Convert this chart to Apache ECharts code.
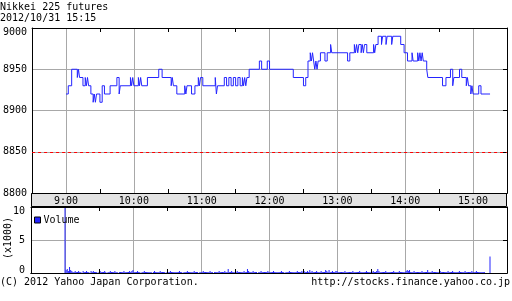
<!DOCTYPE html>
<html>
<head>
<meta charset="utf-8">
<script src="https://cdn.jsdelivr.net/npm/echarts@6/dist/echarts.min.js"></script>
<style>
html,body{margin:0;padding:0;background:#fff;}
#c{width:512px;height:301px;}
</style>
</head>
<body>
<div id="c"></div>
<script>
// ---- data (minutes after 9:00) ----
const titleText = 'Nikkei 225 futures';
const dateText = '2012/10/31 15:15';
const hourLabels = ['9:00','10:00','11:00','12:00','13:00','14:00','15:00'];
const priceTicks = [8800, 8850, 8900, 8950, 9000];
const volumeTicks = [0, 5, 10];
const prevClose = 8850;

// [minute, price] at each change of the 1-minute price (step line)
const priceSteps = [
[0,8920],[2,8930],[5,8950],[10,8940],[11,8950],[12,8940],[15,8930],[17,8940],[18,8930],[19,8940],
[20,8930],[22,8920],[24,8910],[25,8920],[26,8910],[27,8920],[30,8910],[32,8930],[34,8920],[39,8930],
[45,8940],[47,8920],[48,8930],[57,8940],[58,8930],[59,8940],[60,8930],[64,8940],[65,8930],[66,8940],
[67,8930],[72,8940],[82,8950],[85,8940],[93,8930],[94,8940],[95,8930],[98,8920],[105,8930],[106,8920],
[107,8930],[111,8920],[114,8930],[117,8940],[118,8930],[119,8940],[121,8930],[132,8940],[133,8920],[134,8930],
[140,8940],[142,8930],[144,8940],[146,8930],[148,8940],[150,8930],[152,8940],[154,8930],[156,8940],[157,8930],
[158,8940],[159,8930],[160,8940],[162,8950],[171,8960],[173,8950],[178,8960],[180,8950],[201,8940],[210,8930],
[212,8940],[214,8960],[216,8970],[217,8960],[218,8970],[219,8960],[220,8950],[221,8960],[222,8950],[223,8960],
[225,8970],[229,8960],[231,8970],[234,8980],[235,8970],[249,8960],[251,8970],[255,8980],[256,8970],[257,8980],
[258,8970],[259,8980],[261,8970],[262,8980],[263,8970],[264,8980],[266,8970],[272,8980],[273,8970],[274,8980],
[276,8990],[279,8980],[280,8990],[283,8980],[284,8990],[288,8980],[289,8990],[296,8980],[299,8970],[302,8960],
[306,8970],[307,8960],[311,8970],[312,8960],[313,8970],[314,8960],[315,8970],[316,8960],[319,8950],[320,8940],
[333,8930],[336,8940],[340,8950],[342,8930],[343,8940],[348,8950],[350,8940],[354,8930],[355,8940],[356,8930],
[358,8920],[359,8930],[360,8920],[365,8930],[367,8920],[375,8920]
];

// volume per minute (x1000), minute 0 .. 375
const volume = [
10,0.45,0.6,0.3,0.9,0.45,0.3,0.15,0.15,0.3,0.15,0.15,0.3,0.15,0.15,0,0.3,0.15,0.15,0.3,
0.15,0.15,0,0.3,0.15,0.3,0.15,0.15,0.15,0,0.15,0.3,0.15,0.15,0.15,0.3,0.15,0,0.15,0.15,
0.3,0.15,0.15,0.15,0.3,0.15,0.15,0,0.15,0.15,0.15,0.15,0.3,0.15,0.15,0.15,0.15,0.3,0.15,0.3,
0.45,0.15,0.15,0.15,0.3,0.15,0.15,0,0.15,0.15,0.3,0.15,0.15,0.15,0.15,0.15,0.15,0,0.15,0.3,
0.15,0.15,0.15,0.15,0.3,0.15,0.15,0.15,0.15,0,0.15,0.15,0.15,0.3,0.15,0.15,0.15,0.15,0.15,0.15,
0.15,0.3,0.15,0.15,0,0.15,0.15,0.15,0.3,0.15,0.15,0.15,0.15,0.15,0.3,0.15,0.15,0.15,0,0.15,
0.15,0.15,0.3,0.15,0.15,0.15,0.15,0.15,0.3,0.15,0.15,0,0.15,0.15,0.15,0.15,0.3,0.15,0.15,0.15,
0.15,0.3,0.15,0.15,0.6,0.15,0.15,0.3,0.15,0.15,0.15,0.15,0.3,0.15,0.15,0.15,0.15,0.15,0.3,0.15,
0.15,0.6,0.3,0.15,0.15,0.15,0.3,0.15,0.15,0.15,0,0.15,0.15,0.3,0.15,0.15,0.15,0.15,0.15,0.3,
0.15,0.15,0.15,0.15,0.3,0.15,0.15,0.15,0.15,0.15,0.15,0.3,0.15,0.15,0,0.15,0.15,0.15,0.3,0.15,
0.15,0.15,0.15,0.15,0.15,0.3,0.15,0.15,0.15,0.3,0.15,0.3,0.15,0.15,0.3,0.15,0.45,0.15,0.3,0.15,
0.15,0.15,0.3,0.15,0.15,0.15,0.3,0.15,0.15,0.15,0.45,0.3,0.15,0.45,0.15,0.15,0.3,0.15,0.15,0.3,
0.3,0.15,0.15,0.15,0.15,0.15,0.15,0.3,0.15,0.15,0.15,0.15,0.15,0.15,0.3,0.15,0.15,0.15,0.15,0.15,
0.3,0.15,0.15,0.15,0.15,0.15,0.3,0.15,0.15,0.15,0.15,0.15,0.3,0.15,0.15,0.3,0.6,0.3,0.15,0.15,
0.15,0.15,0.15,0.3,0.15,0.15,0.15,0.15,0.15,0.15,0.3,0.15,0.15,0.15,0.15,0.3,0.15,0.15,0.15,0.15,
0.15,0.3,0.45,0.3,0.45,0.15,0.15,0.15,0.3,0.15,0.15,0.15,0.15,0.15,0.15,0.3,0.15,0.15,0.15,0.15,
0.45,0.15,0.15,0.15,0.3,0.15,0.15,0.15,0.15,0.15,0.15,0.3,0.15,0.15,0.15,0.15,0.15,0.15,0.3,0.15,
0.15,0.15,0.3,0.15,0.15,0.15,0.15,0.15,0.3,0.15,0.15,0.15,0.15,0.3,0.15,0.15,0.15,0.15,0.15,0.3,
0.15,0.15,0.15,0.3,0.15,0.15,0.15,0.15,0.15,0.15,0.15,0,0,0,0,2.5
];

// ---- chart ----
const FONT = '"DejaVu Sans Mono", monospace';
const BLUE = '#2424ff';
const GRID_GRAY = '#a8a8a8';
const X_MIN = -30, X_MAX = 390;

const volumeData = volume.map((v, i) => [i, v]);

function hourLabel(v) {
  if (v % 60 === 0 && v >= 0 && v / 60 < hourLabels.length) return hourLabels[v / 60];
  return '';
}
const LINE = { show: true, onZero: false, lineStyle: { color: '#000', width: 1 } };

function mainX(gridIndex, showLabels) {
  return {
    type: 'value', gridIndex, position: 'bottom', min: X_MIN, max: X_MAX, interval: 30,
    axisLine: LINE,
    axisTick: { show: false },
    axisLabel: showLabels ? { show: true, formatter: hourLabel, margin: 3, fontSize: 10, fontFamily: FONT, color: '#000' } : { show: false },
    splitLine: { show: true, lineStyle: { color: ['rgba(0,0,0,0)', GRID_GRAY], width: 1 } }
  };
}
function tickX(gridIndex, position) {
  return {
    type: 'value', gridIndex, position, min: X_MIN, max: X_MAX, interval: 60, z: 3,
    axisLine: LINE,
    axisTick: { show: true, inside: true, length: 4, lineStyle: { color: '#000' } },
    axisLabel: { show: false }, splitLine: { show: false }
  };
}
function tickY(gridIndex, min, max, interval) {
  return {
    type: 'value', gridIndex, position: 'right', min, max, interval, z: 3,
    axisLine: LINE,
    axisTick: { show: true, inside: true, length: 4, lineStyle: { color: '#000' } },
    axisLabel: { show: false }, splitLine: { show: false }
  };
}

const chart = echarts.init(document.getElementById('c'), null, { renderer: 'canvas' });
chart.setOption({
  animation: false,
  backgroundColor: '#fff',
  textStyle: { fontFamily: FONT },
  grid: [
    { left: 31, right: 5, top: 28, height: 165 },
    { left: 31, right: 5, top: 207, height: 66 }
  ],
  legend: {
    data: ['Volume'], left: 34, top: 215, padding: 0, icon: 'rect',
    itemWidth: 6, itemHeight: 6, itemGap: 4,
    itemStyle: { borderColor: '#000', borderWidth: 1 },
    textStyle: { fontSize: 10, fontFamily: FONT, color: '#000', padding: [0, 0, 0, -2] }
  },
  xAxis: [
    mainX(0, true), tickX(0, 'top'), tickX(0, 'bottom'),
    mainX(1, false), tickX(1, 'top'), tickX(1, 'bottom')
  ],
  yAxis: [
    {
      type: 'value', gridIndex: 0, position: 'left', min: priceTicks[0], max: priceTicks[priceTicks.length - 1], interval: 50,
      axisLine: LINE, axisTick: { show: false },
      axisLabel: {
        margin: 5, fontSize: 10, fontFamily: FONT, color: '#000',
        formatter: v => v === priceTicks[priceTicks.length - 1] ? '{top|' + v + '}' : String(v),
        rich: { top: { padding: [9, 0, 0, 0], fontSize: 10, fontFamily: FONT, color: '#000' } }
      },
      splitLine: { show: true, showMinLine: false, showMaxLine: false, lineStyle: { color: GRID_GRAY, width: 1 } }
    },
    tickY(0, priceTicks[0], priceTicks[priceTicks.length - 1], 50),
    {
      type: 'value', gridIndex: 1, position: 'left', min: volumeTicks[0], max: volumeTicks[volumeTicks.length - 1], interval: 5,
      axisLine: LINE, axisTick: { show: false },
      axisLabel: {
        margin: 6, fontSize: 10, fontFamily: FONT, color: '#000',
        formatter: v => v === 10 ? '{top|10}' : (v === 0 ? '{bot|0}' : String(v)),
        rich: {
          top: { padding: [9, 0, 0, 0], fontSize: 10, fontFamily: FONT, color: '#000' },
          bot: { padding: [0, 0, 6, 0], fontSize: 10, fontFamily: FONT, color: '#000' }
        }
      },
      splitLine: { show: true, showMinLine: false, showMaxLine: false, lineStyle: { color: GRID_GRAY, width: 1 } }
    },
    tickY(1, 0, 10, 5)
  ],
  graphic: [
    { type: 'rect', z: -10, shape: { x: 31.5, y: 193.5, width: 475, height: 13 }, style: { fill: '#e3e3e3', stroke: '#000', lineWidth: 1 } },
    { type: 'text', x: 0, y: 2, style: { text: titleText, font: '10px ' + FONT, fill: '#000', verticalAlign: 'top' } },
    { type: 'text', x: 0, y: 13, style: { text: dateText, font: '10px ' + FONT, fill: '#000', verticalAlign: 'top' } },
    { type: 'text', x: 0, y: 277, style: { text: '(C) 2012 Yahoo Japan Corporation.', font: '10px ' + FONT, fill: '#000', verticalAlign: 'top' } },
    { type: 'text', x: 510, y: 277, style: { text: 'http://stocks.finance.yahoo.co.jp', font: '10px ' + FONT, fill: '#000', align: 'right', verticalAlign: 'top' } },
    { type: 'text', x: 8, y: 238, rotation: Math.PI / 2, style: { text: '(x1000)', font: '10px ' + FONT, fill: '#000', align: 'center', verticalAlign: 'middle' } }
  ],
  series: [
    {
      name: 'Price', type: 'line', xAxisIndex: 0, yAxisIndex: 0, step: 'end',
      data: priceSteps, showSymbol: false, symbol: 'none',
      lineStyle: { color: BLUE, width: 1 }, itemStyle: { color: BLUE },
      markLine: {
        silent: true, symbol: 'none', label: { show: false },
        lineStyle: { color: '#ff0000', type: [3, 3], width: 1 },
        data: [{ yAxis: prevClose }]
      }
    },
    {
      name: 'Volume', type: 'bar', xAxisIndex: 3, yAxisIndex: 2,
      data: volumeData, barWidth: 1, itemStyle: { color: BLUE }
    }
  ]
});
</script>
</body>
</html>
